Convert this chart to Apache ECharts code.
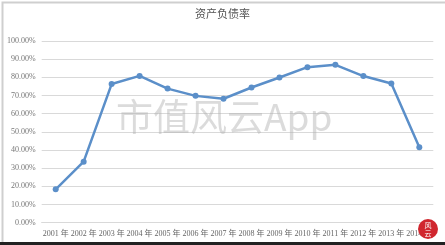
<!DOCTYPE html>
<html>
<head>
<meta charset="utf-8">
<script src="https://cdn.jsdelivr.net/npm/echarts@6/dist/echarts.min.js"></script>
<style>
html,body{margin:0;padding:0;background:#fff;}
#c{width:445px;height:245px;}
</style>
</head>
<body>
<div id="c"></div>
<script>
const titleText = '资产负债率';
const years = ['2001 年','2002 年','2003 年','2004 年','2005 年','2006 年','2007 年','2008 年','2009 年','2010 年','2011 年','2012 年','2013 年','2014 年'];
const debtRatio = [18.4, 33.6, 76.3, 80.8, 73.8, 69.8, 68.2, 74.4, 79.9, 85.6, 86.9, 80.7, 76.6, 41.5];
const watermark = '市值风云App';

const chart = echarts.init(document.getElementById('c'), null, {renderer: 'canvas'});
chart.setOption({
  animation: false,
  backgroundColor: '#fff',
  title: {
    text: titleText, left: 'center', top: 3,
    textStyle: {fontSize: 11, fontWeight: 'normal', color: '#555', fontFamily: 'Noto Sans CJK SC'}
  },
  grid: {left: 41.7, right: 11.7, top: 41, bottom: 22.3, containLabel: false},
  xAxis: {
    type: 'category', data: years, boundaryGap: true,
    axisLine: {show: true, lineStyle: {color: '#d9d9d9'}},
    axisTick: {show: false},
    axisLabel: {interval: 0, color: '#666', fontSize: 8, fontFamily: 'Liberation Serif, Noto Sans CJK SC', margin: 7}
  },
  yAxis: {
    type: 'value', min: 0, max: 100, interval: 10,
    axisLine: {show: false}, axisTick: {show: false},
    splitLine: {lineStyle: {color: '#d9d9d9', width: 1}},
    axisLabel: {formatter: v => v.toFixed(2) + '%', color: '#777', fontSize: 8, fontFamily: 'Liberation Serif', margin: 6}
  },
  series: [{
    type: 'line', data: debtRatio,
    symbol: 'circle', symbolSize: 6,
    lineStyle: {color: '#5b8fc9', width: 2.5},
    itemStyle: {color: '#5b8fc9'}
  }],
  graphic: [
    {type: 'rect', left: 0, top: 0, shape: {width: 445, height: 245}, style: {fill: 'none', stroke: '#cfcfcf', lineWidth: 2}, silent: true},
    {type: 'rect', left: 0, top: 242, shape: {width: 445, height: 3}, style: {fill: '#222'}, silent: true},
    {type: 'text', left: 116, top: 98, z: 10, style: {text: watermark, fontSize: 37, fontFamily: 'Noto Sans CJK SC', fill: 'rgba(175,175,175,0.45)'}, silent: true},
    {type: 'circle', shape: {cx: 428, cy: 229, r: 10}, style: {fill: '#d0262e'}, z: 10, silent: true},
    {type: 'text', x: 428, y: 229, z: 11, style: {text: '风\n云', fontSize: 7, lineHeight: 8, fill: '#fff', align: 'center', verticalAlign: 'middle', fontFamily: 'Noto Sans CJK SC'}, silent: true}
  ]
});
</script>
</body>
</html>
